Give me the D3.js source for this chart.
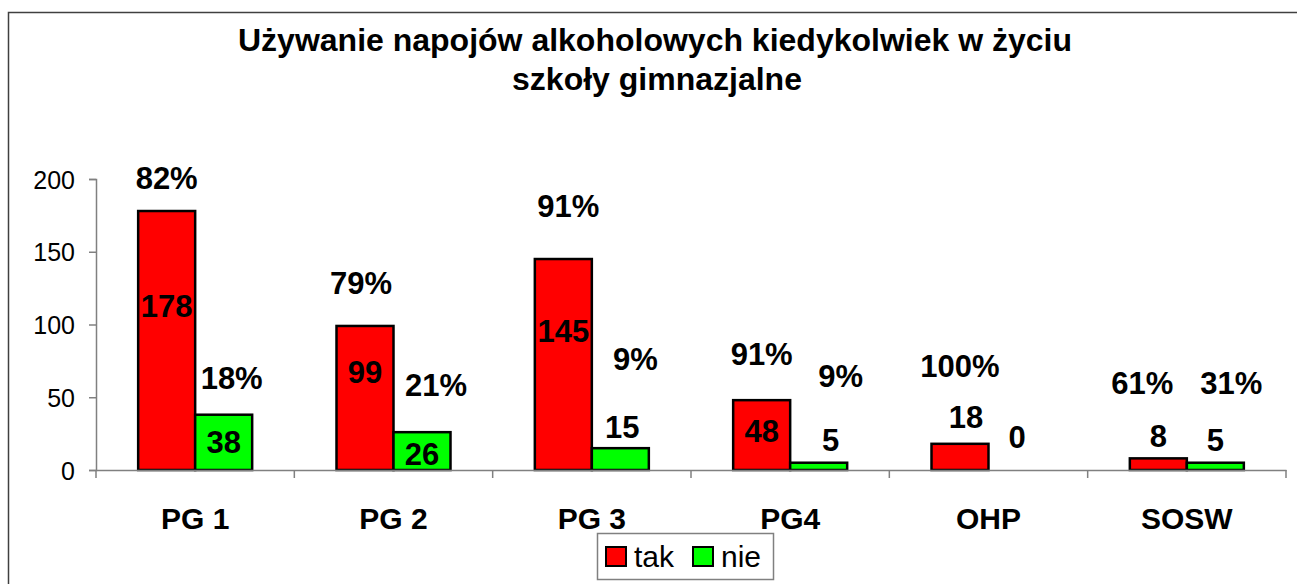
<!DOCTYPE html>
<html>
<head>
<meta charset="utf-8">
<script src="https://cdn.jsdelivr.net/npm/d3@7"></script>
<style>
    body{ margin:0; background:#fff; }
    text{ font-family: "Liberation Sans", Arial, sans-serif; fill:#000; }
    .title{ font-size:32px; font-weight:bold; }
    .tick text{ font-size:25px; }
    .cat{ font-size:30px; font-weight:bold; }
    .lbl{ font-size:31px; font-weight:bold; }
    .leg{ font-size:30px; }
</style>
</head>
<body>
<svg id="chart" width="1297" height="584"></svg>
<script>
// data
var categories = ["PG 1", "PG 2", "PG 3", "PG4", "OHP", "SOSW"];
var takValues  = [178, 99, 145, 48, 18, 8];
var nieValues  = [38, 26, 15, 5, 0, 5];
var takPercent = ["82%", "79%", "91%", "91%", "100%", "61%"];
var niePercent = ["18%", "21%", "9%", "9%", "", "31%"];
var yTicks     = [0, 50, 100, 150, 200];

// label anchors (axis units) as hand-placed in the original
var takPctAt   = [193, 121, 174, 72, 64, 52];
var niePctAt   = [56, 51, 69, 57, 0, 52];
var takCountAt = [105, 60, 88, 19, 29, 16];
var nieCountAt = [12, 3.4, 22, 13, 15, 13];
var takPctDx   = [0, -4, 5, 0, 0, -16];
var niePctDx   = [8, 14, 15, 22, 0, 16];
var takCountDx = [0, 0, 0, 0, 6, 0];
var nieCountDx = [0, 0, 2, 12, 0, 0];

var svg = d3.select("#chart");

// outer frame
svg.append("rect")
    .attr("x", 8.5).attr("y", 12.5)
    .attr("width", 1300).attr("height", 600)
    .attr("fill", "none")
    .attr("stroke", "#404040")
    .attr("stroke-width", 1.5);

svg.append("text").attr("class", "title")
    .attr("x", 655).attr("y", 51)
    .attr("text-anchor", "middle")
    .text("Używanie napojów alkoholowych kiedykolwiek w życiu");
svg.append("text").attr("class", "title")
    .attr("x", 657).attr("y", 90)
    .attr("text-anchor", "middle")
    .text("szkoły gimnazjalne");

var x0 = d3.scaleBand()
    .domain(categories)
    .range([96, 1286])
    .paddingInner(0).paddingOuter(0);

var bw = 57;
var x1 = d3.scaleBand()
    .domain(["tak", "nie"])
    .range([x0.bandwidth() / 2 - bw, x0.bandwidth() / 2 + bw]);

var y = d3.scaleLinear().domain([0, 200]).range([470, 179]);

// y axis
var yAxis = svg.append("g")
    .attr("transform", "translate(96,0)")
    .call(d3.axisLeft(y).tickValues(yTicks).tickSize(7).tickPadding(14));
yAxis.select(".domain").attr("stroke", "#808080").attr("stroke-width", 1.5);
yAxis.selectAll(".tick line").attr("stroke", "#808080").attr("stroke-width", 1.5);
yAxis.selectAll(".tick text").attr("font-family", null).attr("font-size", null).attr("dy", "0.36em");

// bars
var series = [
    { key: "tak", values: takValues, color: "#ff0000" },
    { key: "nie", values: nieValues, color: "#00ff00" }
];

series.forEach(function(s){
    svg.append("g").selectAll("rect")
        .data(s.values)
        .enter()
        .append("rect")
            .attr("x", function(d, i){ return x0(categories[i]) + x1(s.key); })
            .attr("y", function(d){ return y(d); })
            .attr("width", x1.bandwidth())
            .attr("height", function(d){ return y(0) - y(d); })
            .attr("fill", s.color)
            .attr("stroke", "#000")
            .attr("stroke-width", 2.5)
            .style("display", function(d){ return d > 0 ? null : "none"; });
});

// x axis
var xAxis = svg.append("g")
    .attr("transform", "translate(0,470)")
    .call(d3.axisBottom(x0).tickSize(0).tickFormat(""));
xAxis.select(".domain").attr("stroke", "#808080").attr("stroke-width", 1.5);
xAxis.selectAll(".tick").remove();
xAxis.selectAll(".sep")
    .data(d3.range(categories.length + 1))
    .enter()
    .append("line")
        .attr("x1", function(i){ return 96 + i * x0.step(); })
        .attr("x2", function(i){ return 96 + i * x0.step(); })
        .attr("y1", 0).attr("y2", 8)
        .attr("stroke", "#808080").attr("stroke-width", 1.5);

svg.append("g").selectAll("text")
    .data(categories)
    .enter()
    .append("text")
        .attr("class", "cat")
        .attr("x", function(d){ return x0(d) + x0.bandwidth() / 2; })
        .attr("y", 529)
        .attr("text-anchor", "middle")
        .text(function(d){ return d; });

// data labels
function addLabels(key, texts, at, dx){
    svg.append("g").selectAll("text")
        .data(texts)
        .enter()
        .append("text")
            .attr("class", "lbl")
            .attr("x", function(d, i){ return x0(categories[i]) + x1(key) + x1.bandwidth() / 2 + dx[i]; })
            .attr("y", function(d, i){ return y(at[i]); })
            .attr("text-anchor", "middle")
            .text(function(d){ return d; });
}
addLabels("tak", takPercent, takPctAt, takPctDx);
addLabels("nie", niePercent, niePctAt, niePctDx);
addLabels("tak", takValues, takCountAt, takCountDx);
addLabels("nie", nieValues, nieCountAt, nieCountDx);

// legend
var leg = svg.append("g");
leg.append("rect")
    .attr("x", 597.5).attr("y", 533.5)
    .attr("width", 176).attr("height", 46)
    .attr("fill", "#fff")
    .attr("stroke", "#808080").attr("stroke-width", 1.5);

var legItems = leg.selectAll("g.item")
    .data(series)
    .enter()
    .append("g")
        .attr("class", "item")
        .attr("transform", function(d, i){ return "translate(" + (606 + i * 87) + ",547)"; });
legItems.append("rect")
    .attr("width", 20).attr("height", 19)
    .attr("fill", function(d){ return d.color; })
    .attr("stroke", "#000").attr("stroke-width", 2);
legItems.append("text")
    .attr("class", "leg")
    .attr("x", 28).attr("y", 20)
    .text(function(d){ return d.key; });
</script>
</body>
</html>
